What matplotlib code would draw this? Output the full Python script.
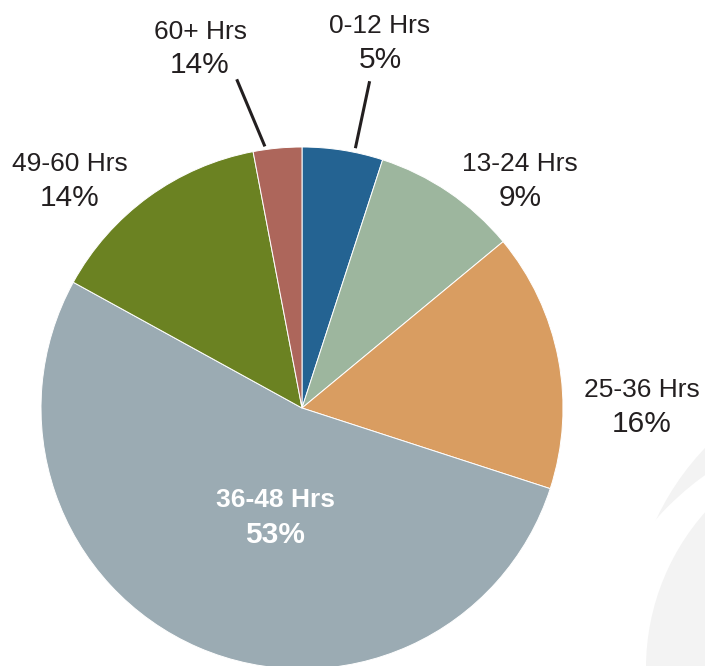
import matplotlib
matplotlib.use("Agg")
import matplotlib.pyplot as plt
from matplotlib.patches import Circle

categories = ["0-12 Hrs", "13-24 Hrs", "25-36 Hrs", "36-48 Hrs", "49-60 Hrs", "60+ Hrs"]
values = [5, 9, 16, 53, 14, 3]
pct_labels = ["5%", "9%", "16%", "53%", "14%", "14%"]
colors = ["#246392", "#9DB69E", "#D99D61", "#9BABB3", "#6B8222", "#AD665B"]

W, H = 705, 666
fig = plt.figure(figsize=(W / 100, H / 100), dpi=100)
ax = fig.add_axes([0, 0, 1, 1])

def py(y):
    return H - y

# background decoration
deco = "#F3F3F3"
ax.add_patch(Circle((900, py(633.7)), 269.3, color=deco, zorder=0, lw=0))
ax.add_patch(Circle((880, py(718.8)), 300, color="white", zorder=0.5, lw=0))
ax.add_patch(Circle((881, py(668)), 235, color=deco, zorder=0.6, lw=0))

cx, cy, R = 302, py(408), 261
wedges, _ = ax.pie(values, colors=colors, startangle=90, counterclock=False,
                   center=(cx, cy), radius=R, frame=True,
                   wedgeprops=dict(edgecolor="white", linewidth=0.7))
for w in wedges:
    w.set_zorder(2)

font = ["Liberation Sans", "DejaVu Sans"]
# (x center, baseline of line 1, baseline of line 2) in pixels from top
label_pos = [(380, 33.3, 68.3), (520, 170.7, 206), (642, 396.7, 431.7),
             (275, 507.3, 542.7), (70, 170.7, 206), (200, 39, 73.3)]
for i, (cat, pct) in enumerate(zip(categories, pct_labels)):
    x, b1, b2 = label_pos[i]
    inside = (cat == "36-48 Hrs")
    col = "white" if inside else "#231f20"
    fw = "bold" if inside else "normal"
    ax.text(x, py(b1), cat, ha="center", va="baseline", fontsize=19,
            family=font, color=col, fontweight=fw, zorder=3)
    ax.text(x, py(b2), pct, ha="center", va="baseline", fontsize=21.5,
            family=font, color=col, fontweight=fw, zorder=3)

# leader lines
ax.plot([355.7, 369.3], [py(146.7), py(82.7)], color="#231f20", lw=2.2, zorder=3)
ax.plot([264.3, 237.3], [py(145), py(80.7)], color="#231f20", lw=2.2, zorder=3)

ax.set_xlim(0, W)
ax.set_ylim(0, H)
ax.set_aspect("auto")
ax.axis("off")
fig.savefig("out.png", dpi=100)
